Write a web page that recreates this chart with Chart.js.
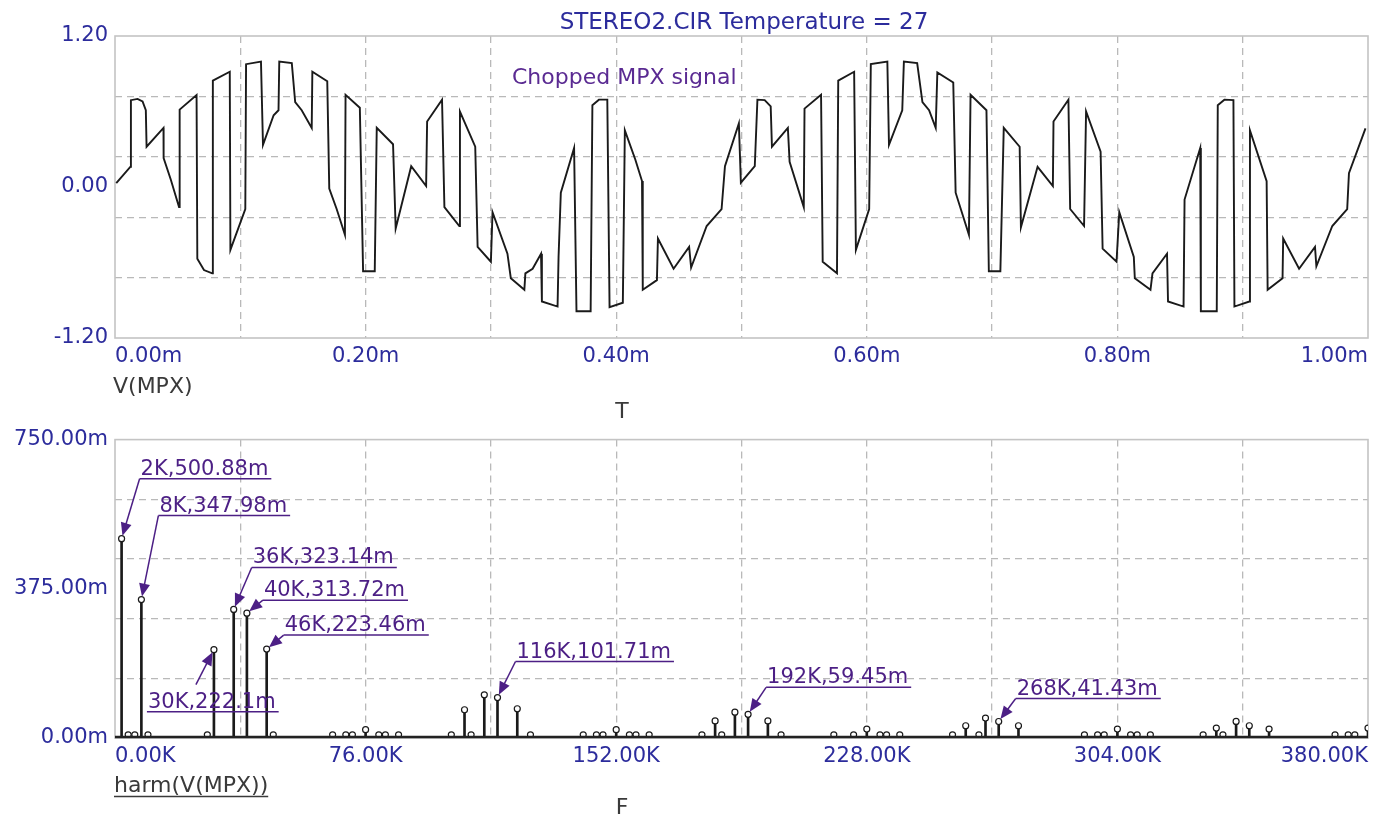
<!DOCTYPE html>
<html>
<head>
<meta charset="utf-8">
<script src="https://cdn.jsdelivr.net/npm/chart.js@4.4.1/dist/chart.umd.min.js"></script>
<style>
  body { margin: 0; background: #fff; }
  #wrap { position: relative; width: 1382px; height: 821px; }
  canvas { position: absolute; left: 0; }
</style>
</head>
<body>
<div id="wrap">
  <canvas id="timeChart" width="1382" height="420" style="top:0"></canvas>
  <canvas id="harmChart" width="1382" height="401" style="top:420px"></canvas>
</div>
<script>
// time domain trace, V(MPX) vs T (ms)
const timeMs = [0.001, 0.0122, 0.0127, 0.018, 0.022, 0.0246, 0.0252, 0.0387, 0.0388, 0.0445,
  0.0511, 0.0516, 0.0651, 0.0657, 0.071, 0.0776, 0.0781, 0.0916, 0.0921, 0.104,
  0.1046, 0.1165, 0.1181, 0.1266, 0.1305, 0.1311, 0.1411, 0.1438, 0.149, 0.157,
  0.1575, 0.1694, 0.171, 0.1769, 0.1835, 0.184, 0.1954, 0.198, 0.2073, 0.2089,
  0.2219, 0.224, 0.2364, 0.2483, 0.2491, 0.261, 0.2629, 0.2748, 0.2753, 0.2875,
  0.2894, 0.30, 0.3013, 0.3132, 0.3159, 0.3267, 0.3275, 0.3333, 0.34, 0.3407,
  0.3532, 0.354, 0.3558, 0.3664, 0.3683, 0.3796, 0.381, 0.3862, 0.3929, 0.3947,
  0.4053, 0.4069, 0.4153, 0.4206, 0.4212, 0.4325, 0.4333, 0.4458, 0.4582, 0.4598,
  0.4722, 0.4841, 0.4868, 0.4979, 0.4995, 0.5106, 0.5127, 0.5185, 0.5233, 0.5243,
  0.537, 0.5384, 0.5497, 0.5503, 0.5635, 0.5648, 0.5762, 0.5772, 0.5899, 0.5913,
  0.6019, 0.6032, 0.6164, 0.6177, 0.6283, 0.6296, 0.6402, 0.6444, 0.6497, 0.655,
  0.6563, 0.669, 0.6709, 0.6815, 0.6828, 0.6955, 0.6974, 0.7066, 0.7093, 0.722,
  0.723, 0.7363, 0.7485, 0.749, 0.7609, 0.7623, 0.7734, 0.775, 0.7866, 0.7882,
  0.7993, 0.8015, 0.8131, 0.8139, 0.8264, 0.828, 0.8396, 0.8404, 0.8528, 0.8536,
  0.8661, 0.8666, 0.8793, 0.8801, 0.8854, 0.8926, 0.8934, 0.9053, 0.9058, 0.9191,
  0.9199, 0.9318, 0.9323, 0.945, 0.9577, 0.9588, 0.9715, 0.9834, 0.9848, 0.998];
const mpxVolts = [0.03, 0.16, 0.69, 0.70, 0.68, 0.61, 0.32, 0.47, 0.23, 0.06,
  -0.16, 0.615, 0.73, -0.57, -0.66, -0.686, 0.846, 0.916, -0.50, -0.175,
  0.976, 0.997, 0.335, 0.57, 0.61, 0.997, 0.984, 0.675, 0.61, 0.47,
  0.916, 0.84, -0.013, -0.175, -0.38, 0.733, 0.63, -0.67, -0.67, 0.47,
  0.34, -0.33, 0.165, 0.008, 0.52, 0.694, -0.16, -0.31, 0.60, 0.32,
  -0.476, -0.594, -0.2, -0.53, -0.725, -0.817, -0.686, -0.65, -0.53, -0.91,
  -0.95, -0.555, -0.045, 0.31, -0.987, -0.987, 0.65, 0.694, 0.694, -0.955,
  -0.92, 0.45, 0.217, 0.047, -0.817, -0.74, -0.41, -0.65, -0.476, -0.64,
  -0.31, -0.175, 0.165, 0.505, 0.034, 0.165, 0.694, 0.69, 0.64, 0.32,
  0.47, 0.20, -0.16, 0.623, 0.733, -0.594, -0.686, 0.846, 0.916, -0.50,
  -0.175, 0.976, 0.997, 0.335, 0.61, 0.997, 0.984, 0.675, 0.61, 0.47,
  0.91, 0.83, -0.045, -0.38, 0.733, 0.61, -0.67, -0.67, 0.47, 0.32,
  -0.32, 0.16, 0.008, 0.52, 0.694, -0.175, -0.31, 0.60, 0.28, -0.49,
  -0.594, -0.2, -0.555, -0.725, -0.817, -0.686, -0.53, -0.91, -0.95, -0.1,
  0.31, -0.987, -0.987, 0.65, 0.694, 0.69, -0.95, -0.91, 0.45, 0.047,
  -0.817, -0.725, -0.41, -0.65, -0.476, -0.63, -0.31, -0.175, 0.11, 0.466];

// harmonics, frequency in kHz and amplitude in mV
const harmFreqK = [2, 4, 6, 8, 10, 28, 30, 36, 40, 46, 48, 66, 70, 72, 76, 80, 82, 86,
  102, 106, 108, 112, 116, 122, 126, 142, 146, 148, 152, 156, 158, 162,
  178, 182, 184, 188, 192, 198, 202, 218, 224, 228, 232, 234, 238,
  254, 258, 262, 264, 268, 274, 294, 298, 300, 304, 308, 310, 314,
  330, 334, 336, 340, 344, 350, 370, 374, 376, 380];
const harmAmp = [500.88, 8, 8, 347.98, 8, 8, 222.1, 323.14, 313.72, 223.46, 8, 8, 8, 8, 21, 8, 8, 8,
  8, 71, 8, 108.5, 101.71, 73.5, 8, 8, 8, 8, 21, 8, 8, 8,
  8, 43, 8, 65, 59.45, 43, 8, 8, 8, 22.5, 8, 8, 8,
  8, 30.8, 8, 50, 41.43, 30.8, 8, 8, 8, 22.5, 8, 8, 8,
  8, 25, 8, 41.6, 30.8, 22.5, 8, 8, 8, 25];

// labelled harmonics
const noteFreqK = [2, 8, 30, 36, 40, 46, 116, 192, 268];
const noteAmp = [500.88, 347.98, 222.1, 323.14, 313.72, 223.46, 101.71, 59.45, 41.43];
// label placement relative to the point: line start dx,dy and underline start lx,ly
const notePlace = [[18, -60], [17, -84], [-18, 35, -67, 62], [18, -42], [16, -13],
  [17, -14], [18, -36], [18, -27], [17, -23]];

const FONT = "'DejaVu Sans', 'Liberation Sans', sans-serif";
const tickBlue = '#2c2c9c';
const notePurple = '#4c1f85';
const gridGrey = '#b9b9b9';

function tenTicks(min, step) {
  return (scale) => {
    const t = [];
    for (let i = 0; i <= 10; i++) t.push({ value: +(min + i * step).toFixed(6) });
    scale.ticks = t;
  };
}

const framePlugin = {
  id: 'frame',
  beforeDatasetsDraw(chart) {
    const a = chart.chartArea, ctx = chart.ctx;
    ctx.save();
    ctx.strokeStyle = '#c4c4c4';
    ctx.lineWidth = 1.6;
    ctx.strokeRect(a.left, a.top, a.right - a.left, a.bottom - a.top);
    ctx.restore();
  }
};

function xAxis(min, max, step, fmt) {
  return {
    type: 'linear', min: min, max: max, offset: false,
    afterBuildTicks: tenTicks(min, step),
    afterFit: (s) => { s.height = 40; },
    border: { display: false, dash: [7, 5] },
    grid: {
      offset: false, drawTicks: false, lineWidth: 1.3,
      color: (c) => (c.index > 0 && c.index < 10) ? gridGrey : 'rgba(0,0,0,0)'
    },
    ticks: {
      autoSkip: false, maxRotation: 0, align: 'inner', padding: 6,
      color: tickBlue, font: { family: FONT, size: 21 },
      callback: (v, i) => i % 2 === 0 ? fmt(v) : ''
    }
  };
}

function yAxis(min, step, fmt) {
  return {
    min: min, max: min + 10 * step,
    afterBuildTicks: tenTicks(min, step),
    afterFit: (s) => { s.width = 115; },
    border: { display: false, dash: [7, 5] },
    grid: {
      drawTicks: false, lineWidth: 1.3,
      color: (c) => (c.index % 2 === 0 && c.index > 0 && c.index < 10) ? gridGrey : 'rgba(0,0,0,0)'
    },
    ticks: {
      autoSkip: false, padding: 7,
      color: tickBlue, font: { family: FONT, size: 21 },
      callback: (v, i) => i % 5 === 0 ? fmt(v) : ''
    }
  };
}

const topText = {
  id: 'topText',
  afterDraw(chart) {
    const ctx = chart.ctx;
    ctx.save();
    ctx.textBaseline = 'alphabetic';
    ctx.font = '23px ' + FONT;
    ctx.fillStyle = tickBlue;
    ctx.textAlign = 'center';
    ctx.fillText('STEREO2.CIR Temperature = 27', 744, 29);
    ctx.font = '22px ' + FONT;
    ctx.fillStyle = '#5a2a92';
    ctx.textAlign = 'left';
    ctx.fillText('Chopped MPX signal', 512, 84);
    ctx.fillStyle = '#3a3a3a';
    ctx.fillText('V(MPX)', 113, 393);
    ctx.textAlign = 'center';
    ctx.fillText('T', 622, 418);
    ctx.restore();
  }
};

new Chart('timeChart', {
  type: 'scatter',
  data: {
    datasets: [{
      data: timeMs.map((t, i) => ({ x: t, y: mpxVolts[i] })),
      showLine: true,
      borderColor: '#1a1a1a',
      borderWidth: 1.9,
      pointRadius: 0,
      tension: 0
    }]
  },
  options: {
    responsive: false,
    animation: false,
    layout: { padding: { left: 0, right: 14, top: 36, bottom: 42 } },
    plugins: { legend: { display: false }, tooltip: { enabled: false } },
    scales: {
      x: xAxis(0, 1, 0.1, (v) => v.toFixed(2) + 'm'),
      y: yAxis(-1.2, 0.24, (v) => v.toFixed(2))
    }
  },
  plugins: [framePlugin, topText]
});

const harmNotes = {
  id: 'harmNotes',
  afterDatasetsDraw(chart) {
    const ctx = chart.ctx, xs = chart.scales.x, ys = chart.scales.y, a = chart.chartArea;
    ctx.save();
    // dense low-level harmonics form a dark baseline
    ctx.strokeStyle = '#222';
    ctx.lineWidth = 2.5;
    ctx.beginPath();
    ctx.moveTo(a.left, a.bottom - 1);
    ctx.lineTo(a.right, a.bottom - 1);
    ctx.stroke();

    ctx.font = '21px ' + FONT;
    ctx.textAlign = 'left';
    ctx.textBaseline = 'alphabetic';
    noteFreqK.forEach((f, i) => {
      const px = xs.getPixelForValue(f), py = ys.getPixelForValue(noteAmp[i]);
      const p = notePlace[i];
      const sx = px + p[0], sy = py + p[1];
      const lx = p.length > 2 ? px + p[2] : sx;
      const ly = p.length > 2 ? py + p[3] : sy;
      const label = f + 'K,' + noteAmp[i] + 'm';
      const w = ctx.measureText(label).width + 4;
      ctx.fillStyle = notePurple;
      ctx.strokeStyle = notePurple;
      ctx.fillText(label, lx + 1, ly - 4);
      ctx.lineWidth = 1.5;
      ctx.beginPath();
      ctx.moveTo(lx, ly);
      ctx.lineTo(lx + w, ly);
      ctx.stroke();
      // leader with arrow head
      const dx = px - sx, dy = py - sy, len = Math.hypot(dx, dy);
      const ux = dx / len, uy = dy / len;
      const tx = px - ux * 3, ty = py - uy * 3;
      ctx.beginPath();
      ctx.moveTo(sx, sy);
      ctx.lineTo(tx - ux * 10, ty - uy * 10);
      ctx.stroke();
      ctx.beginPath();
      ctx.moveTo(tx, ty);
      ctx.lineTo(tx - ux * 13 - uy * 5.5, ty - uy * 13 + ux * 5.5);
      ctx.lineTo(tx - ux * 13 + uy * 5.5, ty - uy * 13 - ux * 5.5);
      ctx.closePath();
      ctx.fill();
    });

    ctx.font = '22px ' + FONT;
    ctx.fillStyle = '#3a3a3a';
    ctx.strokeStyle = '#3a3a3a';
    ctx.fillText('harm(V(MPX))', 114, 372);
    const hw = ctx.measureText('harm(V(MPX))').width;
    ctx.lineWidth = 1.5;
    ctx.beginPath();
    ctx.moveTo(114, 376.5);
    ctx.lineTo(114 + hw, 376.5);
    ctx.stroke();
    ctx.textAlign = 'center';
    ctx.fillText('F', 622, 394);
    ctx.restore();
  }
};

const harmPoints = harmFreqK.map((f, i) => ({ x: f, y: harmAmp[i] }));

new Chart('harmChart', {
  type: 'bar',
  data: {
    datasets: [{
      type: 'line',
      data: harmPoints,
      showLine: false,
      pointRadius: 3,
      pointBorderWidth: 1.2,
      pointBackgroundColor: '#fff',
      pointBorderColor: '#1a1a1a'
    }, {
      type: 'bar',
      data: harmPoints,
      barThickness: 2,
      backgroundColor: '#1a1a1a'
    }]
  },
  options: {
    responsive: false,
    animation: false,
    layout: { padding: { left: 0, right: 14, top: 19, bottom: 43 } },
    plugins: { legend: { display: false }, tooltip: { enabled: false } },
    scales: {
      x: xAxis(0, 380, 38, (v) => v.toFixed(2) + 'K'),
      y: yAxis(0, 75, (v) => v.toFixed(2) + 'm')
    }
  },
  plugins: [framePlugin, harmNotes]
});
</script>
</body>
</html>
